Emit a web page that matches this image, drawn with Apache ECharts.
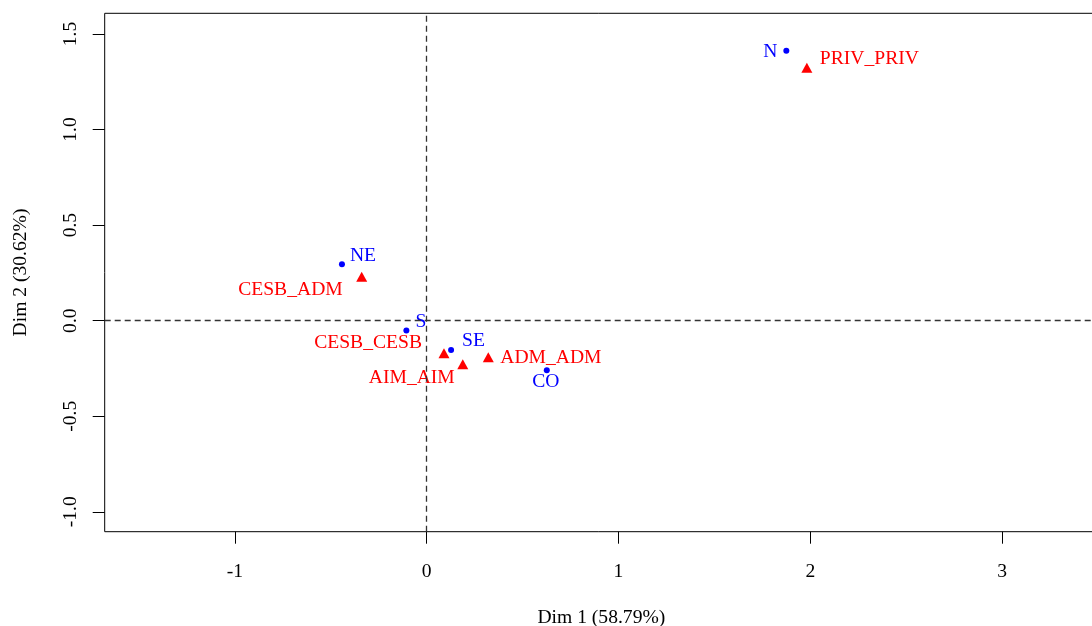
<!DOCTYPE html>
<html>
<head>
<meta charset="utf-8">
<script src="https://cdn.jsdelivr.net/npm/echarts@6/dist/echarts.min.js"></script>
<style>html,body{margin:0;padding:0;background:#fff}#c{width:1092px;height:626px}</style>
</head>
<body>
<div id="c"></div>
<script>
// Row points (blue)
const rowNames = ['N', 'NE', 'S', 'SE', 'CO'];
const rowX = [1.875, -0.442, -0.106, 0.127, 0.626];
const rowY = [1.412, 0.295, -0.052, -0.154, -0.259];
// Column points (red)
const colNames = ['PRIV_PRIV', 'CESB_ADM', 'CESB_CESB', 'AIM_AIM', 'ADM_ADM'];
const colX = [1.982, -0.339, 0.090, 0.188, 0.321];
const colY = [1.323, 0.230, -0.171, -0.228, -0.191];
// Tick labels
const xTicks = [-1, 0, 1, 2, 3];
const yTicks = [-1.0, -0.5, 0.0, 0.5, 1.0, 1.5];
const xTitle = 'Dim 1 (58.79%)';
const yTitle = 'Dim 2 (30.62%)';

// label placement (style only)
const labelPlace = {
  'N': {align: 'right', offset: [-9, 1]},
  'NE': {align: 'left', offset: [8, -8]},
  'S': {align: 'left', offset: [9, -9]},
  'SE': {align: 'left', offset: [11, -9]},
  'CO': {align: 'center', offset: [-1, 12]},
  'PRIV_PRIV': {align: 'left', offset: [13, -9]},
  'CESB_ADM': {align: 'right', offset: [-19, 13]},
  'CESB_CESB': {align: 'right', offset: [-22, -11]},
  'AIM_AIM': {align: 'right', offset: [-8, 14]},
  'ADM_ADM': {align: 'left', offset: [12, 1]}
};

const FONT = 'Liberation Serif';
const FS = 19.6;

function build(names, xs, ys, color) {
  return names.map((n, i) => ({
    name: n,
    value: [xs[i], ys[i]],
    label: {
      show: true, position: 'inside', formatter: n, color: color,
      fontFamily: FONT, fontSize: FS,
      align: labelPlace[n].align, verticalAlign: 'middle',
      offset: labelPlace[n].offset
    }
  }));
}

const chart = echarts.init(document.getElementById('c'), null, {renderer: 'canvas'});
chart.setOption({
  animation: false,
  backgroundColor: '#fff',
  grid: {left: 104.7, top: 13.3, bottom: 94.3, right: -6, show: true, borderColor: '#000', borderWidth: 1,
         containLabel: false, outerBoundsMode: 'none'},
  xAxis: {
    type: 'value', min: -1.679, max: 3.5,
    splitLine: {show: false},
    axisLine: {show: false, onZero: false},
    axisTick: {show: true, length: 12, inside: false, lineStyle: {color: '#000'}, customValues: xTicks},
    axisLabel: {color: '#000', fontFamily: FONT, fontSize: FS, margin: 30, customValues: xTicks, formatter: v => String(v)},
    name: xTitle, nameLocation: 'middle', nameGap: 76,
    nameTextStyle: {color: '#000', fontFamily: FONT, fontSize: FS}
  },
  yAxis: {
    type: 'value', min: -1.104, max: 1.608,
    splitLine: {show: false},
    axisLine: {show: false, onZero: false},
    axisTick: {show: true, length: 12, inside: false, lineStyle: {color: '#000'}, customValues: yTicks},
    axisLabel: {color: '#000', fontFamily: FONT, fontSize: FS, margin: 24, rotate: 90, customValues: yTicks, formatter: v => v.toFixed(1)},
    name: yTitle, nameLocation: 'middle', nameGap: 74, nameRotate: 90,
    nameTextStyle: {color: '#000', fontFamily: FONT, fontSize: FS}
  },
  series: [
    {
      type: 'scatter', symbol: 'circle', symbolSize: 6,
      itemStyle: {color: '#0000FF', opacity: 1},
      data: build(rowNames, rowX, rowY, '#0000FF'),
      markLine: {
        silent: true, symbol: 'none', label: {show: false},
        lineStyle: {color: '#333', type: [6, 4], width: 1.3, opacity: 1},
        data: [{xAxis: 0}, {yAxis: 0}]
      },
      z: 3
    },
    {
      type: 'scatter', symbol: 'triangle', symbolSize: [11, 10],
      itemStyle: {color: '#FF0000', opacity: 1},
      data: build(colNames, colX, colY, '#FF0000'),
      z: 3
    }
  ]
});
</script>
</body>
</html>
